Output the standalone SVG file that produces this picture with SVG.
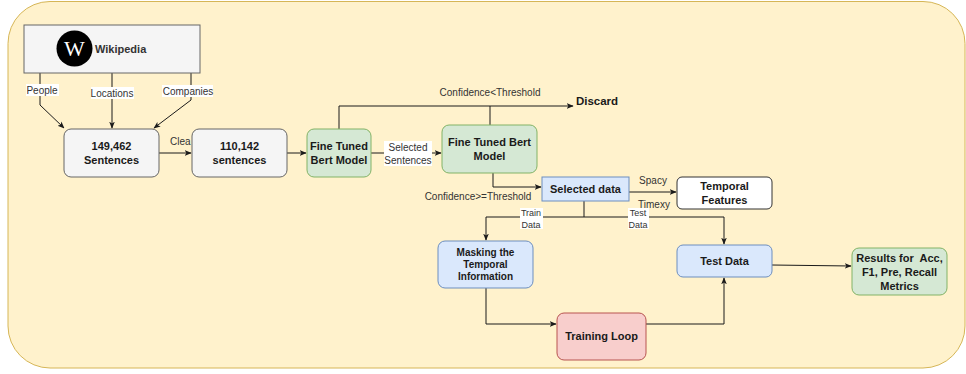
<svg xmlns="http://www.w3.org/2000/svg" width="966" height="374" viewBox="0 0 966 374">
<defs>
<marker id="arr" viewBox="0 0 10 10" refX="9" refY="5" markerWidth="7" markerHeight="7" orient="auto" markerUnits="userSpaceOnUse">
<path d="M0,1 L10,5 L0,9 L2.5,5 Z" fill="#1a1a1a"/>
</marker>
<style>
.t{font-family:"Liberation Sans",Arial,sans-serif;font-weight:bold;font-size:11px;fill:#1a1a1a;text-anchor:middle}
.l{font-family:"Liberation Sans",Arial,sans-serif;font-size:10px;fill:#333;text-anchor:middle}
.s{font-family:"Liberation Sans",Arial,sans-serif;font-size:9px;fill:#333;text-anchor:middle}
.e{fill:none;stroke:#1a1a1a;stroke-width:1}
.grey{fill:#f5f5f5;stroke:#666}
.green{fill:#d5e8d4;stroke:#82b366}
.blue{fill:#dae8fc;stroke:#6c8ebf}
.red{fill:#f8cecc;stroke:#b85450}
</style>
</defs>
<rect x="8" y="1.5" width="957" height="366.5" rx="42" fill="#fff2cc" stroke="#d6b656"/>
<g id="connectors">
<path class="e" d="M40,73 V105 L64,128" marker-end="url(#arr)"/>
<path class="e" d="M112,73 V128" marker-end="url(#arr)"/>
<path class="e" d="M191,73 V100 L154,128" marker-end="url(#arr)"/>
<path class="e" d="M159,153 H191" marker-end="url(#arr)"/>
<path class="e" d="M287,153 H306" marker-end="url(#arr)"/>
<path class="e" d="M371,153 H441" marker-end="url(#arr)"/>
<path class="e" d="M339,129 V106 H573" marker-end="url(#arr)"/>
<path class="e" d="M490,125 V106"/>
<path class="e" d="M493,173 V187 H541" marker-end="url(#arr)"/>
<path class="e" d="M629,192 H676" marker-end="url(#arr)"/>
<path class="e" d="M584,201 V217"/>
<path class="e" d="M486,217 H724"/>
<path class="e" d="M486,217 V240" marker-end="url(#arr)"/>
<path class="e" d="M724,217 V244" marker-end="url(#arr)"/>
<path class="e" d="M486,288 V324 H556" marker-end="url(#arr)"/>
<path class="e" d="M646,324 H724 V278" marker-end="url(#arr)"/>
<path class="e" d="M772,265 L851,266" marker-end="url(#arr)"/>
<rect x="26" y="84" width="33" height="12" fill="#fff"/>
<text class="l" x="42" y="94">People</text>
<rect x="91" y="87" width="43" height="12" fill="#fff"/>
<text class="l" x="112" y="97">Locations</text>
<rect x="162" y="85" width="51" height="12" fill="#fff"/>
<text class="l" x="188" y="95">Companies</text>
<text class="l" x="170" y="145" style="text-anchor:start">Clea</text>
<rect x="384" y="141" width="48" height="25" fill="#fff"/>
<text class="l" x="408" y="151">Selected</text>
<text class="l" x="408" y="164">Sentences</text>
<text class="l" x="490" y="96">Confidence&lt;Threshold</text>
<text class="t" x="597" y="105" style="font-size:11.5px">Discard</text>
<text class="l" x="478" y="200">Confidence&gt;=Threshold</text>
<text class="l" x="653" y="184">Spacy</text>
<text class="l" x="654" y="208">Timexy</text>
<rect x="520" y="208" width="23" height="21" fill="#fff"/>
<text class="s" x="531" y="216">Train</text>
<text class="s" x="531" y="228">Data</text>
<rect x="628" y="208" width="21" height="21" fill="#fff"/>
<text class="s" x="638" y="216">Test</text>
<text class="s" x="638" y="228">Data</text>
</g>
<g id="wikipedia">
<rect class="grey" x="24" y="25" width="176" height="48"/>
<circle cx="74.5" cy="48.5" r="18" fill="#000"/>
<text x="74.5" y="56" text-anchor="middle" font-family="Liberation Serif,serif" font-size="22" fill="#fff">W</text>
<text class="t" x="95" y="53" style="text-anchor:start;fill:#333">Wikipedia</text>
</g>
<g id="sentences149">
<rect class="grey" x="64" y="129" width="95" height="48" rx="7"/>
<text class="t" x="111.5" y="150">149,462</text>
<text class="t" x="111.5" y="164">Sentences</text>
</g>
<g id="sentences110">
<rect class="grey" x="192" y="129" width="95" height="48" rx="7"/>
<text class="t" x="239.5" y="150">110,142</text>
<text class="t" x="239.5" y="164">sentences</text>
</g>
<g id="bert1">
<rect class="green" x="307" y="129" width="64" height="48" rx="7"/>
<text class="t" x="339" y="150">Fine Tuned</text>
<text class="t" x="339" y="164">Bert Model</text>
</g>
<g id="bert2">
<rect class="green" x="442" y="125" width="95" height="48" rx="7"/>
<text class="t" x="489.5" y="146">Fine Tuned Bert</text>
<text class="t" x="489.5" y="160">Model</text>
</g>
<g id="selected">
<rect class="blue" x="542" y="177" width="87" height="24"/>
<text class="t" x="585.5" y="193">Selected data</text>
</g>
<g id="temporal">
<rect x="677" y="177" width="95" height="32" rx="5" fill="#fff" stroke="#333"/>
<text class="t" x="724.5" y="190">Temporal</text>
<text class="t" x="724.5" y="204">Features</text>
</g>
<g id="masking">
<rect class="blue" x="438" y="241" width="95" height="47" rx="7"/>
<text class="t" x="485.5" y="256" style="font-size:10px">Masking the</text>
<text class="t" x="485.5" y="268" style="font-size:10px">Temporal</text>
<text class="t" x="485.5" y="280" style="font-size:10px">Information</text>
</g>
<g id="testdata">
<rect class="blue" x="677" y="245" width="95" height="32" rx="6"/>
<text class="t" x="724.5" y="265">Test Data</text>
</g>
<g id="training">
<rect class="red" x="557" y="313" width="89" height="47" rx="7"/>
<text class="t" x="601.5" y="340">Training Loop</text>
</g>
<g id="results">
<rect class="green" x="852" y="248" width="95" height="47" rx="7"/>
<text class="t" x="899.5" y="262">Results for&#160; Acc,</text>
<text class="t" x="899.5" y="276">F1, Pre, Recall</text>
<text class="t" x="899.5" y="290">Metrics</text>
</g>
</svg>
